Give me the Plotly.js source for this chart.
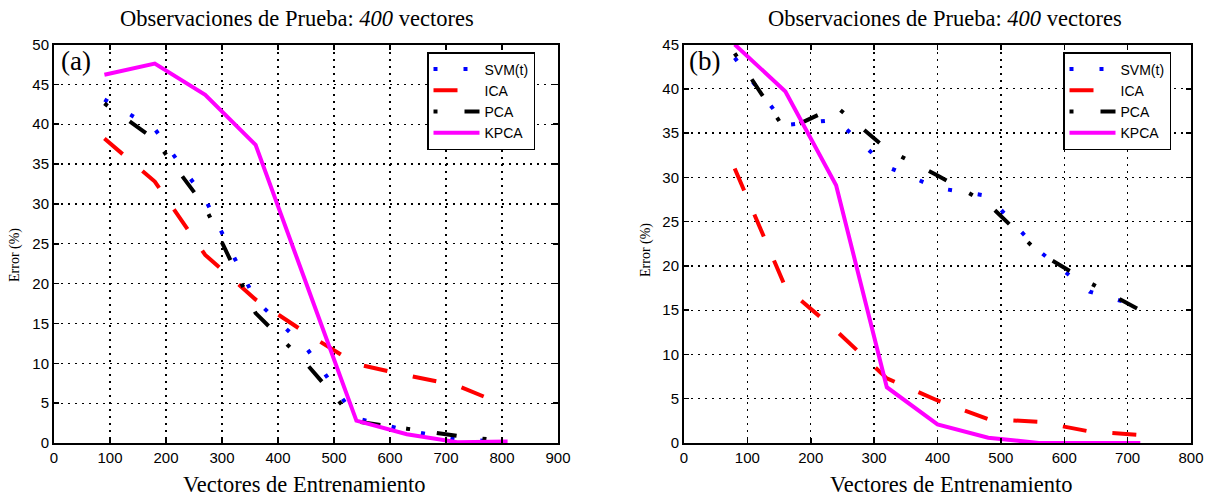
<!DOCTYPE html>
<html>
<head>
<meta charset="utf-8">
<script src="https://cdn.plot.ly/plotly-3.0.1.min.js"></script>
<style>html,body{margin:0;padding:0;background:#fff;}#chart{width:1209px;height:497px;}</style>
</head>
<body>
<div id="chart"></div>
<script>
// ---- Data ----
const seriesNames = ["SVM(t)", "ICA", "PCA", "KPCA"];

// Panel (a)
const xA    = [90, 180, 270, 360, 450, 540, 630, 720, 810];
const svmA  = [43.1, 39.4, 30.6, 17.9, 12.0, 3.1, 1.6, 0.4, 0.2];
const icaA  = [38.2, 32.8, 23.6, 18.0, 13.8, 9.9, 8.5, 7.2, 4.6];
const pcaA  = [42.6, 38.1, 29.6, 16.3, 10.0, 2.7, 1.8, 0.9, 0.2];
const kpcaA = [46.2, 47.6, 43.7, 37.4, 20.1, 2.8, 1.1, 0.1, 0.2];

// Panel (b)
const xB    = [80, 160, 240, 320, 400, 480, 560, 640, 720];
const svmB  = [43.5, 35.9, 36.5, 31.2, 28.8, 27.9, 21.7, 17.1, 15.4];
const icaB  = [31.0, 17.6, 12.7, 7.3, 4.8, 2.7, 2.4, 1.3, 0.9];
const pcaB  = [44.0, 35.3, 38.0, 33.2, 30.2, 27.0, 21.5, 18.1, 15.0];
const kpcaB = [45.0, 39.7, 29.1, 6.3, 2.1, 0.6, 0.0, 0.0, 0.0];

const xTicksA = [0, 100, 200, 300, 400, 500, 600, 700, 800, 900];
const yTicksA = [0, 5, 10, 15, 20, 25, 30, 35, 40, 45, 50];
const xTicksB = [0, 100, 200, 300, 400, 500, 600, 700, 800];
const yTicksB = [0, 5, 10, 15, 20, 25, 30, 35, 40, 45];

const titleText = "Observaciones de Prueba: <i>400</i> vectores";
const xTitleText = "Vectores de Entrenamiento";
const yTitleText = "Error (%)";

// ---- Styles ----
const styles = [
  {color: "#0000ff", width: 4, dash: "4px,26px"},
  {color: "#ff0000", width: 4, dash: "24px,26px"},
  {color: "#000000", width: 4, dash: "4px,27px,20px,26px"},
  {color: "#ff00ff", width: 4, dash: "solid"}
];

function mk(x, ys, xa, ya, leg) {
  return ys.map((y, i) => ({
    type: "scatter", mode: "lines", x: x, y: y, name: seriesNames[i],
    xaxis: xa, yaxis: ya, legend: leg,
    line: {color: styles[i].color, width: styles[i].width, dash: styles[i].dash},
    hoverinfo: "skip"
  }));
}

const traces = [
  ...mk(xA, [svmA, icaA, pcaA, kpcaA], "x", "y", "legend"),
  ...mk(xB, [svmB, icaB, pcaB, kpcaB], "x2", "y2", "legend2")
];

const W = 1209, H = 497;
const px = v => v / W;
const py = v => 1 - v / H;

function axis(dom, range, ticks, anchor) {
  return {
    domain: dom, range: range, tickvals: ticks, ticktext: ticks.map(String),
    anchor: anchor,
    showline: true, linewidth: 2, linecolor: "black", mirror: "ticks",
    ticks: "inside", ticklen: 5, tickwidth: 1.5, tickcolor: "black",
    showgrid: true, gridcolor: "black", gridwidth: 1.3, griddash: "2px,5px",
    zeroline: false, fixedrange: true,
    tickfont: {family: "Liberation Sans, Arial, sans-serif", size: 15, color: "black"}
  };
}

const serif = "Liberation Serif, Times New Roman, serif";
const legendCommon = {
  bgcolor: "white", bordercolor: "black", borderwidth: 1.5,
  font: {family: "Liberation Sans, Arial, sans-serif", size: 14, color: "black"},
  xanchor: "left", yanchor: "top", itemwidth: 46, tracegroupgap: 0
};

const layout = {
  width: W, height: H,
  margin: {l: 0, r: 0, t: 0, b: 0},
  paper_bgcolor: "white", plot_bgcolor: "white",
  showlegend: true,
  xaxis: axis([px(54), px(558)], [0, 900], xTicksA, "y"),
  yaxis: axis([py(443), py(44.5)], [0, 50], yTicksA, "x"),
  xaxis2: axis([px(684), px(1191)], [0, 800], xTicksB, "y2"),
  yaxis2: axis([py(443), py(44.5)], [0, 45], yTicksB, "x2"),
  legend: Object.assign({x: px(427), y: py(52)}, legendCommon),
  legend2: Object.assign({x: px(1063), y: py(52)}, legendCommon),
  annotations: [
    {text: titleText, x: px(297), y: py(18), xref: "paper", yref: "paper", showarrow: false,
     xanchor: "center", yanchor: "middle", font: {family: serif, size: 22.5, color: "black"}},
    {text: titleText, x: px(945), y: py(18), xref: "paper", yref: "paper", showarrow: false,
     xanchor: "center", yanchor: "middle", font: {family: serif, size: 22.5, color: "black"}},
    {text: xTitleText, x: px(304), y: py(484), xref: "paper", yref: "paper", showarrow: false,
     xanchor: "center", yanchor: "middle", font: {family: serif, size: 22.5, color: "black"}},
    {text: xTitleText, x: px(951), y: py(484), xref: "paper", yref: "paper", showarrow: false,
     xanchor: "center", yanchor: "middle", font: {family: serif, size: 22.5, color: "black"}},
    {text: yTitleText, x: px(15), y: py(255), xref: "paper", yref: "paper", showarrow: false,
     textangle: -90, xanchor: "center", yanchor: "middle", font: {family: serif, size: 14, color: "black"}},
    {text: yTitleText, x: px(646), y: py(250), xref: "paper", yref: "paper", showarrow: false,
     textangle: -90, xanchor: "center", yanchor: "middle", font: {family: serif, size: 14, color: "black"}},
    {text: "(a)", x: px(76), y: py(61), xref: "paper", yref: "paper", showarrow: false,
     xanchor: "center", yanchor: "middle", font: {family: serif, size: 27, color: "black"}},
    {text: "(b)", x: px(705), y: py(61), xref: "paper", yref: "paper", showarrow: false,
     xanchor: "center", yanchor: "middle", font: {family: serif, size: 27, color: "black"}}
  ]
};

Plotly.newPlot("chart", traces, layout, {displayModeBar: false, staticPlot: true});
</script>
</body>
</html>
